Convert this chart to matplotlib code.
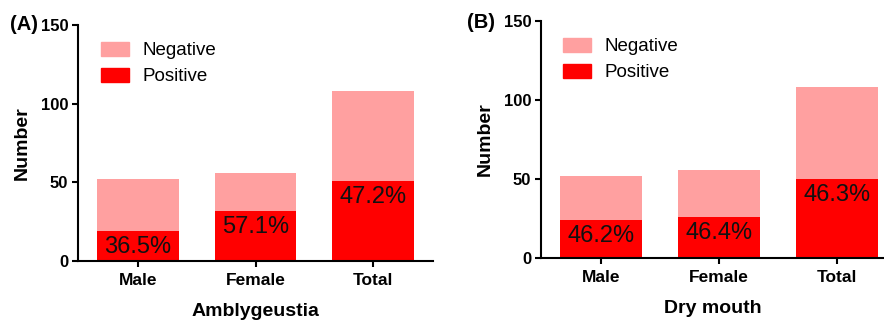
import numpy as np
import matplotlib
matplotlib.use("Agg")
import matplotlib.pyplot as plt
from matplotlib.patches import Patch

plt.rcParams['font.family'] = ['Liberation Sans', 'DejaVu Sans']

# data
groups = ["Male", "Female", "Total"]
amb_total = [52, 56, 108]
amb_pos = [19, 32, 51]
amb_pct = ["36.5%", "57.1%", "47.2%"]
dry_total = [52, 56, 108]
dry_pos = [24, 26, 50]
dry_pct = ["46.2%", "46.4%", "46.3%"]

neg_color = "#FFA0A0"
pos_color = "#FF0000"

W, H = 884, 320
fig = plt.figure(figsize=(W / 100, H / 100), dpi=100)


def panel(rect, total, pos, pct, xlabel, tag, tagpos, xmax):
    ax = fig.add_axes(rect)
    x = np.arange(len(groups))
    neg = np.array(total) - np.array(pos)
    ax.bar(x, pos, width=0.69, color=pos_color, zorder=2)
    ax.bar(x, neg, bottom=pos, width=0.69, color=neg_color, zorder=2)
    for xi, p, t in zip(x, pos, pct):
        ax.annotate(t, (xi, p), xytext=(0, -11.5), textcoords="offset points",
                    ha="center", va="center", fontsize=17, color="#111111", zorder=3)
    ax.set_xlim(-0.51, xmax)
    ax.set_ylim(0, 150)
    ax.set_yticks([0, 50, 100, 150])
    ax.set_xticks(x)
    ax.set_xticklabels(groups, fontsize=12.5, fontweight="bold")
    for lab in ax.get_yticklabels():
        lab.set_fontsize(12)
        lab.set_fontweight("bold")
    for s in ["top", "right"]:
        ax.spines[s].set_visible(False)
    for s in ["left", "bottom"]:
        ax.spines[s].set_linewidth(1.5)
    ax.tick_params(axis="both", width=1.5, length=4, pad=3)
    ax.tick_params(axis="x", length=4.5, pad=4)
    ax.set_ylabel("Number", fontsize=14, fontweight="bold", labelpad=7)
    ax.set_xlabel(xlabel, fontsize=14, fontweight="bold", labelpad=11)
    handles = [Patch(color=neg_color), Patch(color=pos_color)]
    ax.legend(handles, ["Negative", "Positive"], loc="upper left",
              bbox_to_anchor=(0.065, 0.93), frameon=False, fontsize=13.5,
              handlelength=1.5, handleheight=0.8, handletextpad=0.7,
              labelspacing=0.45, borderpad=0, borderaxespad=0)
    fig.text(tagpos[0] / W, 1 - tagpos[1] / H, tag, fontsize=14.5,
             fontweight="bold", ha="left", va="center")
    return ax


panel([78 / W, 1 - 261 / H, (433 - 78) / W, (261 - 25) / H],
      amb_total, amb_pos, amb_pct, "Amblygeustia", "(A)", (10, 25), 2.51)
panel([541 / W, 1 - 258 / H, (884 - 541) / W, (258 - 21) / H],
      dry_total, dry_pos, dry_pct, "Dry mouth", "(B)", (467, 22), 2.40)

fig.savefig("out.png", dpi=100)
